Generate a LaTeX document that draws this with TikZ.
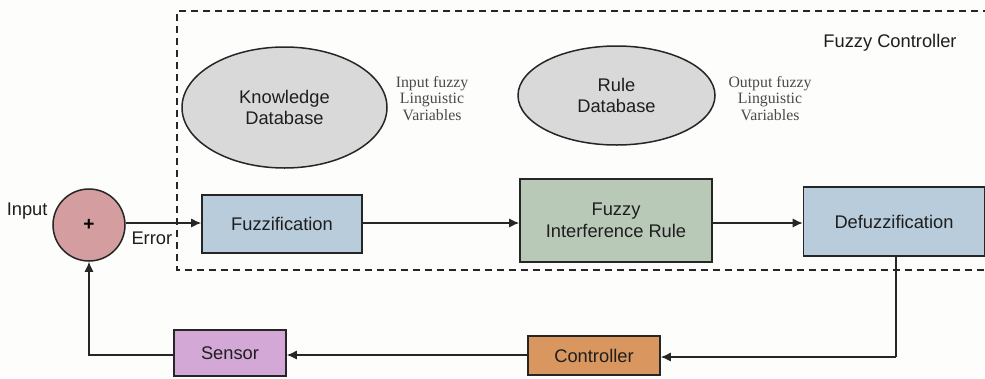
\documentclass[tikz,border=0pt]{standalone}
\usepackage{fontspec}
\setmainfont{Liberation Sans}
\newfontfamily\labelserif{Liberation Serif}
\usetikzlibrary{shapes.geometric,arrows.meta}
\definecolor{bgwhite}{HTML}{FDFDFB}
\definecolor{sumpink}{HTML}{D49DA0}
\definecolor{stageblue}{HTML}{B8CCDB}
\definecolor{rulegreen}{HTML}{B9C9B8}
\definecolor{ctrlorange}{HTML}{D9975F}
\definecolor{sensorpurple}{HTML}{D3A8D7}
\definecolor{dbgray}{HTML}{D9D9D9}
\definecolor{inktext}{HTML}{1E1E1E}
\definecolor{notegray}{HTML}{4A4A4A}
\tikzset{
  x=1pt, y=-1pt,
  txt/.style={font=\fontsize{18.3}{21.5}\selectfont, text=inktext, align=center},
  block/.style={txt, draw=black!85, line width=1.6pt, inner sep=0pt},
  db/.style={ellipse, draw=black!85, line width=1.5pt, fill=dbgray, inner sep=0pt, txt},
  note/.style={font=\labelserif\fontsize{15.8}{16.5}\selectfont, text=notegray, align=center},
  flow/.style={line width=1.2pt, draw=black!85, -{Latex[length=10pt,width=9pt]}},
  wire/.style={line width=1.2pt, draw=black!85},
  frame/.style={line width=1.5pt, draw=black!85, dash pattern=on 7pt off 5pt}
}
\begin{document}
\begin{tikzpicture}
  \fill[bgwhite] (0,0) rectangle (985,378);
  \useasboundingbox (0,0) rectangle (985,378);

  % fuzzy controller boundary
  \draw[frame] (990,11) -- (177,11) -- (177,270) -- (990,270);
  \node[txt, anchor=center] (title) at (890,43) {Fuzzy Controller};

  % knowledge and rule databases
  \node[db, minimum width=205pt, minimum height=121pt] (kdb) at (284.5,107.5) {Knowledge\\Database};
  \node[db, minimum width=197pt, minimum height=99pt] (rdb) at (616.5,95.5) {Rule\\Database};
  \node[note] (innote) at (432,98.5) {Input fuzzy\\Linguistic\\Variables};
  \node[note] (outnote) at (770,98.5) {Output fuzzy\\Linguistic\\Variables};

  % summing junction
  \node[circle, draw=black!85, line width=1.5pt, fill=sumpink, minimum size=72pt, inner sep=0pt,
        font=\fontsize{19}{21}\selectfont\bfseries] (sum) at (89,225) {+};
  \node[txt, anchor=east] (inlabel) at (51,211) {Input};

  % processing stages
  \node[block, fill=stageblue, minimum width=160pt, minimum height=58pt] (fuzz) at (282,224) {Fuzzification};
  \node[block, fill=rulegreen, minimum width=192pt, minimum height=83pt] (infer) at (616,220.5) {Fuzzy\\Interference Rule};
  \node[block, fill=stageblue, minimum width=181pt, minimum height=69pt] (defuzz) at (894,221.5) {Defuzzification};

  % feedback path
  \node[block, fill=ctrlorange, minimum width=132pt, minimum height=39pt] (ctrl) at (594,355.5) {Controller};
  \node[block, fill=sensorpurple, minimum width=112pt, minimum height=46pt] (sensor) at (230,353) {Sensor};
  \coordinate (corner) at (896,357);

  % connectors
  \draw[flow] (sum.east |- 0,223) -- (fuzz.west |- 0,223);
  \node[txt, anchor=north west] (errlabel) at (128,228) {Error};
  \draw[flow] (fuzz.east |- 0,223) -- (infer.west |- 0,223);
  \draw[flow] (infer.east |- 0,223) -- (defuzz.west |- 0,223);
  \draw[wire] (defuzz.south -| corner) -- (corner);
  \draw[flow] (corner) -- (ctrl.east |- corner);
  \draw[flow] (ctrl.west |- 0,355) -- (sensor.east |- 0,355);
  \draw[flow] (sensor.west |- 0,355) -| (sum.south);
\end{tikzpicture}
\end{document}
